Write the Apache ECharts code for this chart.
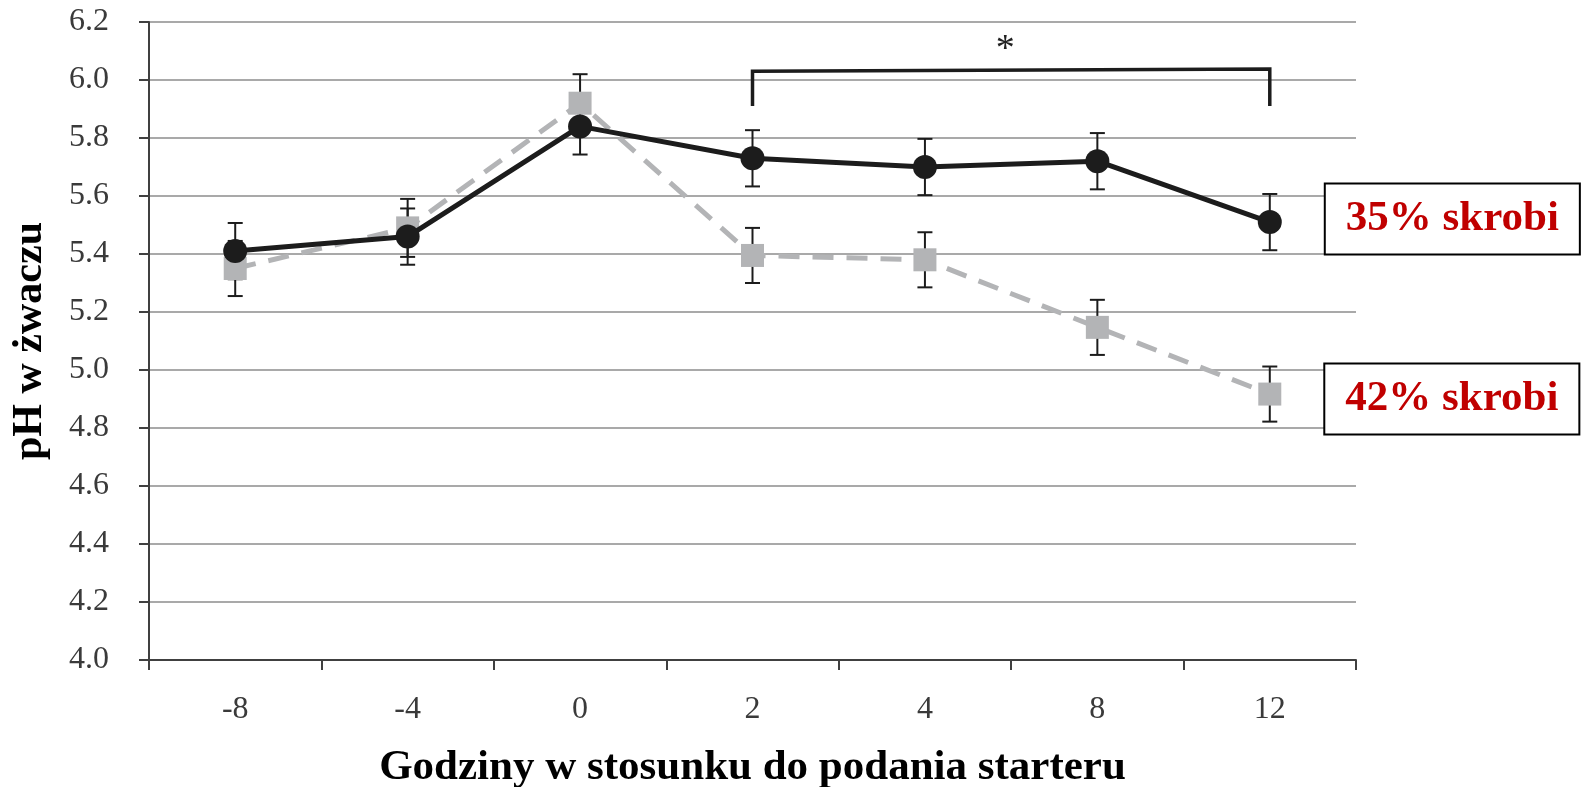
<!DOCTYPE html>
<html>
<head>
<meta charset="utf-8">
<script src="https://cdn.jsdelivr.net/npm/echarts@6/dist/echarts.min.js"></script>
<style>
html,body{margin:0;padding:0;background:#fff;}
#c{width:1581px;height:787px;}
</style>
</head>
<body>
<div id="c"></div>
<script>
// ---- data ----
const categories = ['-8', '-4', '0', '2', '4', '8', '12'];
const starch35 = [5.41, 5.46, 5.84, 5.73, 5.70, 5.72, 5.51];
const starch35Err = [0.097, 0.097, 0.097, 0.097, 0.097, 0.097, 0.097];
const starch42 = [5.35, 5.49, 5.92, 5.395, 5.38, 5.147, 4.917];
const starch42Err = [0.095, 0.10, 0.10, 0.095, 0.095, 0.095, 0.095];
const seriesNames = ['35% skrobi', '42% skrobi'];
const yTicks = { min: 4.0, max: 6.2, step: 0.2 };
const bracketFrom = '2';
const bracketTo = '12';
const bracketTopLeft = 6.03;
const bracketTopRight = 6.038;
const bracketLegBottom = 5.91;
const starY = 6.105;
const starText = '*';
const xTitle = 'Godziny w stosunku do podania starteru';
const yTitle = 'pH w żwaczu';

// ---- chart ----
const FONT = '"Liberation Serif", "Times New Roman", serif';
const BLACK = '#1c1c1c';
const GRAY = '#b3b4b6';
const RED = '#c00000';
const last = categories.length - 1;

function withEndLabel(values, extra) {
  return values.map((v, i) => i === last ? {
    value: v,
    label: Object.assign({
      show: true,
      position: 'right',
      distance: 44,
      formatter: '{a}',
      color: RED,
      fontFamily: FONT,
      fontWeight: 'bold',
      fontSize: 43,
      lineHeight: 46,
      backgroundColor: '#fff',
      borderColor: '#000',
      borderWidth: 2,
      padding: [12, 20, 11, 20]
    }, extra)
  } : v);
}

function errData(values, errs) {
  return values.map((v, i) => [i, v - errs[i], v + errs[i]]);
}

function errRender(params, api) {
  const x = api.value(0), lo = api.value(1), hi = api.value(2);
  const a = api.coord([x, lo]), b = api.coord([x, hi]);
  const w = 7.5;
  const st = { stroke: '#1c1c1c', lineWidth: 2 };
  return {
    type: 'group',
    children: [
      { type: 'line', shape: { x1: a[0], y1: a[1], x2: b[0], y2: b[1] }, style: st },
      { type: 'line', shape: { x1: a[0] - w, y1: a[1], x2: a[0] + w, y2: a[1] }, style: st },
      { type: 'line', shape: { x1: b[0] - w, y1: b[1], x2: b[0] + w, y2: b[1] }, style: st }
    ]
  };
}

const chart = echarts.init(document.getElementById('c'), null, { renderer: 'canvas' });
chart.setOption({
  animation: false,
  backgroundColor: '#fff',
  textStyle: { fontFamily: FONT },
  grid: { left: 149, right: 225, top: 22, bottom: 127, containLabel: false, outerBoundsMode: 'none' },
  xAxis: {
    type: 'category',
    data: categories,
    boundaryGap: true,
    name: xTitle,
    nameLocation: 'middle',
    nameGap: 86,
    nameMoveOverlap: false,
    nameTextStyle: { fontFamily: FONT, fontWeight: 'bold', fontSize: 43, color: '#000' },
    axisLine: { show: true, lineStyle: { color: '#404040', width: 2 } },
    axisTick: { show: true, length: 10, alignWithLabel: false, lineStyle: { color: '#404040', width: 2 } },
    axisLabel: { fontFamily: FONT, fontSize: 32, color: '#3a3a3a', margin: 34 },
    splitLine: { show: false }
  },
  yAxis: {
    type: 'value',
    min: yTicks.min,
    max: yTicks.max,
    interval: yTicks.step,
    name: yTitle,
    nameLocation: 'middle',
    nameGap: 98,
    nameMoveOverlap: false,
    nameTextStyle: { fontFamily: FONT, fontWeight: 'bold', fontSize: 42, color: '#000' },
    axisLine: { show: true, lineStyle: { color: '#404040', width: 2 } },
    axisTick: { show: true, length: 10, inside: false, lineStyle: { color: '#404040', width: 2 } },
    axisLabel: { fontFamily: FONT, fontSize: 32, color: '#3a3a3a', margin: 40, formatter: v => v.toFixed(1) },
    splitLine: { show: true, lineStyle: { color: '#a9a9a9', width: 2 } }
  },
  series: [
    {
      type: 'custom',
      name: 'err42',
      z: 1,
      renderItem: errRender,
      encode: { x: 0, y: [1, 2] },
      data: errData(starch42, starch42Err),
      silent: true
    },
    {
      type: 'custom',
      name: 'err35',
      z: 1,
      renderItem: errRender,
      encode: { x: 0, y: [1, 2] },
      data: errData(starch35, starch35Err),
      silent: true
    },
    {
      type: 'line',
      name: seriesNames[1],
      z: 3,
      data: withEndLabel(starch42, { offset: [0, 5] }),
      symbol: 'rect',
      symbolSize: 23,
      itemStyle: { color: GRAY },
      lineStyle: { color: GRAY, width: 5, type: [21, 13] },
      label: { show: false }
    },
    {
      type: 'line',
      name: seriesNames[0],
      z: 4,
      data: withEndLabel(starch35, { offset: [0, -3] }),
      symbol: 'circle',
      symbolSize: 24,
      itemStyle: { color: BLACK },
      lineStyle: { color: BLACK, width: 5 },
      label: { show: false }
    },
    {
      type: 'custom',
      name: 'bracket',
      z: 5,
      silent: true,
      encode: { x: [0, 1], y: [2, 3, 4] },
      data: [[categories.indexOf(bracketFrom), categories.indexOf(bracketTo), bracketTopLeft, bracketTopRight, bracketLegBottom]],
      renderItem: function (params, api) {
        const i0 = api.value(0), i1 = api.value(1);
        const pL = api.coord([i0, api.value(2)]);
        const pR = api.coord([i1, api.value(3)]);
        const bL = api.coord([i0, api.value(4)]);
        const bR = api.coord([i1, api.value(4)]);
        const sy = api.coord([i0, starY])[1];
        const sx = (pL[0] + pR[0]) / 2 - 6;
        return {
          type: 'group',
          children: [
            { type: 'polyline', shape: { points: [bL, pL, pR, bR] }, style: { stroke: BLACK, lineWidth: 3.5, fill: null } },
            { type: 'text', x: sx, y: sy, style: { text: starText, font: '38px ' + FONT, fill: '#222', align: 'center', verticalAlign: 'middle' } }
          ]
        };
      }
    }
  ]
});
</script>
</body>
</html>
